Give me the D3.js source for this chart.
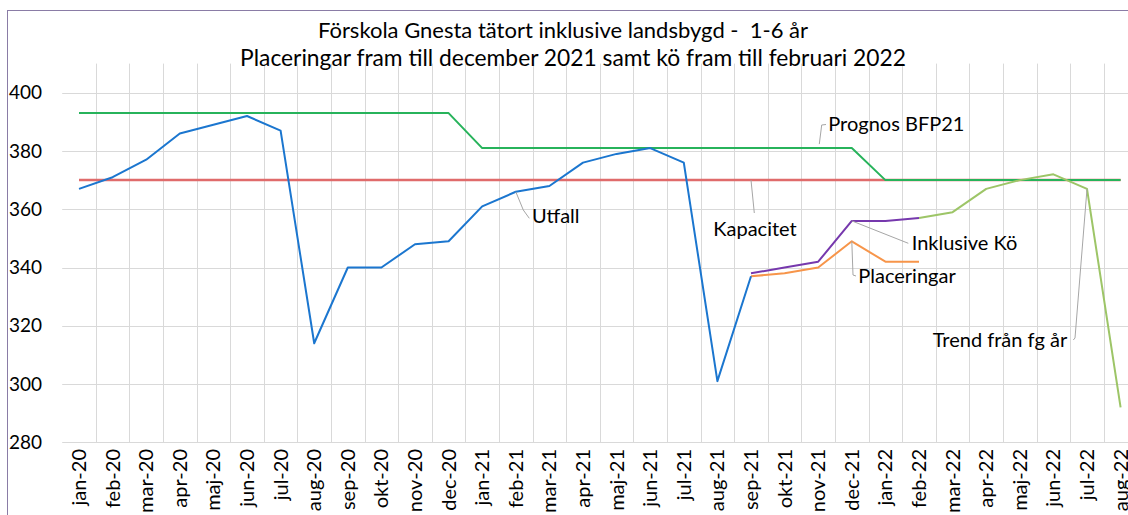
<!DOCTYPE html>
<html>
<head>
<meta charset="utf-8">
<script src="https://cdn.jsdelivr.net/npm/d3@7"></script>
<style>
  html, body { margin: 0; padding: 0; background: #fff; }
  svg { display: block; font-family: Lato, "Open Sans", sans-serif; }
</style>
</head>
<body>
<svg id="chart"></svg>
<script>
// months on the category axis
const months = ['jan-20','feb-20','mar-20','apr-20','maj-20','jun-20','jul-20','aug-20','sep-20','okt-20','nov-20','dec-20',
  'jan-21','feb-21','mar-21','apr-21','maj-21','jun-21','jul-21','aug-21','sep-21','okt-21','nov-21','dec-21',
  'jan-22','feb-22','mar-22','apr-22','maj-22','jun-22','jul-22','aug-22'];

const yTicks = [280, 300, 320, 340, 360, 380, 400];

// series, null = no value that month
const utfall = [367,371,377,386,389,392,387,314,340,340,348,349,
  361,366,368,376,379,381,376,301,337,null,null,null,
  null,null,null,null,null,null,null,null];
const placeringar = [null,null,null,null,null,null,null,null,null,null,null,null,
  null,null,null,null,null,null,null,null,337,338,340,349,
  342,342,null,null,null,null,null,null];
const inklusiveKo = [null,null,null,null,null,null,null,null,null,null,null,null,
  null,null,null,null,null,null,null,null,338,340,342,356,
  356,357,null,null,null,null,null,null];
const trend = [null,null,null,null,null,null,null,null,null,null,null,null,
  null,null,null,null,null,null,null,null,null,null,null,null,
  null,357,359,367,370,372,367,292];
const prognos = [393,393,393,393,393,393,393,393,393,393,393,393,
  381,381,381,381,381,381,381,381,381,381,381,381,
  370,370,370,370,370,370,370,370];
const kapacitet = [370,370,370,370,370,370,370,370,370,370,370,370,
  370,370,370,370,370,370,370,370,370,370,370,370,
  370,370,370,370,370,370,370,370];

const W = 1128, H = 515;
const svg = d3.select('#chart').attr('width', W).attr('height', H);

// plot area runs past the right edge of the picture
const left = 62.2, band = 33.6;
const x = d3.scaleBand().domain(months).range([left, left + band * months.length]);
const cx = m => x(m) + x.bandwidth() / 2;
const y = d3.scaleLinear().domain([280, 410]).range([442.3, 63.6]);

// outer border
svg.append('rect')
  .attr('x', 7.5).attr('y', 10.5)
  .attr('width', W + 20).attr('height', H + 20)
  .attr('fill', 'none').attr('stroke', '#8a7ca6').attr('stroke-width', 1);

// gridlines
const grid = svg.append('g').attr('stroke', '#d9d9d9').attr('stroke-width', 1);
grid.selectAll('line.h').data(yTicks).enter().append('line')
  .attr('x1', left).attr('x2', W)
  .attr('y1', d => Math.round(y(d)) + 0.5).attr('y2', d => Math.round(y(d)) + 0.5);
grid.selectAll('line.v').data(months.slice(1)).enter().append('line')
  .attr('x1', d => Math.round(x(d)) + 0.5).attr('x2', d => Math.round(x(d)) + 0.5)
  .attr('y1', y(410)).attr('y2', y(280));

// y axis labels
svg.append('g').selectAll('text').data(yTicks).enter().append('text')
  .attr('x', 42).attr('y', d => y(d)).attr('dy', '0.35em')
  .attr('text-anchor', 'end').style('font-size', '19px').attr('fill', '#000')
  .text(d => d);

// x axis labels, rotated
svg.append('g').selectAll('text').data(months).enter().append('text')
  .attr('transform', d => 'translate(' + cx(d) + ',449) rotate(-90)')
  .attr('dy', '0.35em').attr('text-anchor', 'end')
  .style('font-size', '20px').attr('fill', '#000')
  .text(d => d);

// lines
const line = d3.line()
  .defined(d => d.v != null)
  .x(d => cx(d.m))
  .y(d => y(d.v));

function drawSeries(values, color, width) {
  svg.append('path')
    .datum(months.map((m, i) => ({ m: m, v: values[i] })))
    .attr('fill', 'none')
    .attr('stroke', color)
    .attr('stroke-width', width)
    .attr('stroke-linejoin', 'round')
    .attr('d', line);
}

drawSeries(kapacitet, '#e06b6b', 2.5);
drawSeries(prognos, '#27b35b', 2);
drawSeries(trend, '#9dc567', 2);
drawSeries(placeringar, '#f7954a', 2);
drawSeries(inklusiveKo, '#7638ad', 2);
drawSeries(utfall, '#1b76cf', 2);

// data labels with leader lines
const leaders = svg.append('g').attr('fill', 'none').attr('stroke', '#a6a6a6').attr('stroke-width', 1);
function leader(pts) {
  leaders.append('path').attr('d', d3.line()(pts));
}
leader([[cx('feb-21'), y(366)], [523.3, 210], [529.3, 218.3]]);
leader([[751, y(370)], [754.3, 213]]);
leader([[819.3, y(381) - 4], [821.7, 125], [826, 124.5]]);
leader([[cx('dec-21'), y(356)], [908.3, 243.3]]);
leader([[cx('dec-21'), y(349)], [853, 275], [856, 276]]);
leader([[1073.3, 340], [1075, 338], [cx('jul-22'), y(367)]]);

const labels = [
  { t: 'Utfall', x: 532, y: 223 },
  { t: 'Kapacitet', x: 713.3, y: 235.7 },
  { t: 'Prognos BFP21', x: 828.3, y: 130.7 },
  { t: 'Inklusive Kö', x: 911.7, y: 250 },
  { t: 'Placeringar', x: 858.3, y: 283.3 },
  { t: 'Trend från fg år', x: 932.7, y: 346.7 }
];
svg.append('g').selectAll('text').data(labels).enter().append('text')
  .attr('x', d => d.x).attr('y', d => d.y)
  .style('font-size', '20px').attr('fill', '#000')
  .text(d => d.t);

// title
const title = svg.append('text').attr('text-anchor', 'middle').attr('fill', '#000').style('font-size', '22px');
title.append('tspan').attr('x', 563).attr('y', 38).text('Förskola Gnesta tätort inklusive landsbygd -  1-6 år').style('white-space', 'pre');
title.append('tspan').attr('x', 573).attr('y', 66).style('font-size', '22.8px')
  .text('Placeringar fram till december 2021 samt kö fram till februari 2022');
</script>
</body>
</html>
